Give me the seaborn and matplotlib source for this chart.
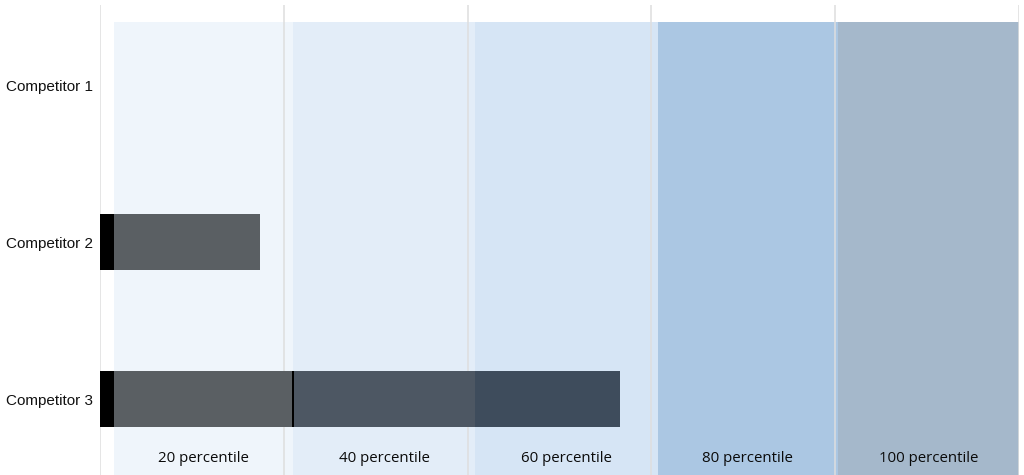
import matplotlib
matplotlib.use("Agg")
import matplotlib.pyplot as plt
import seaborn as sns
import pandas as pd
import numpy as np

# ---- data ----
competitors = ["Competitor 1", "Competitor 2", "Competitor 3"]
seg_base = [0, 1.5, 1.5]          # black base piece
seg_p20 = [0, 15.9, 19.4]         # up to 20th percentile
seg_divider = [0, 0, 0.2]         # thin black divider
seg_p40 = [0, 0, 19.7]
seg_p60 = [0, 0, 15.8]
segment_colors = ["#000000", "#5A5F63", "#000000", "#4D5763", "#3E4C5C"]

band_edges = [1.5, 21.0, 40.8, 60.7, 80.3, 100.0]
band_labels = ["20 percentile", "40 percentile", "60 percentile", "80 percentile", "100 percentile"]
band_colors = ["#EFF5FB", "#E3EDF8", "#D6E5F5", "#ABC7E3", "#A5B8CB"]
grid_ticks = [0, 20, 40, 60, 80, 100]

sns.set_theme(style="white")
plt.rcParams["font.family"] = ["Liberation Sans", "DejaVu Sans"]

fig = plt.figure(figsize=(10.24, 4.75), dpi=100)
ax = fig.add_axes([100 / 1024, 0, 919 / 1024, 470 / 475])

# background bands
for i in range(len(band_labels)):
    ax.axvspan(band_edges[i], band_edges[i + 1], ymin=0, ymax=0.964,
               color=band_colors[i], lw=0, zorder=0.2)

# grid lines
for t in grid_ticks:
    ax.axvline(t, color="#DEDEDE", lw=1.1, zorder=0.5)

# stacked bars
segments = [seg_base, seg_p20, seg_divider, seg_p40, seg_p60]
left = np.zeros(len(competitors))
for seg, col in zip(segments, segment_colors):
    df = pd.DataFrame({"competitor": competitors, "value": seg})
    sns.barplot(data=df, y="competitor", x="value", order=competitors,
                orient="h", color=col, width=0.36, left=left,
                saturation=1, linewidth=0, ax=ax, zorder=2)
    left = left + np.array(seg)

ax.set_xlim(0, 100)
ax.set_ylim(2.484, -0.51)
ax.set_xlabel("")
ax.set_ylabel("")
ax.set_xticks([])
for s in ax.spines.values():
    s.set_visible(False)
ax.tick_params(axis="y", length=0, pad=5, labelsize=11, labelcolor="#111111")
ax.set_facecolor("white")

# band labels
for i, lab in enumerate(band_labels):
    xc = (band_edges[i] + band_edges[i + 1]) / 2
    ax.text(xc, 2.376, lab, ha="center", va="center", fontsize=10.8,
            family=["Open Sans", "DejaVu Sans"], color="#0A0A0A", zorder=3)

fig.savefig("out.png", dpi=100)
